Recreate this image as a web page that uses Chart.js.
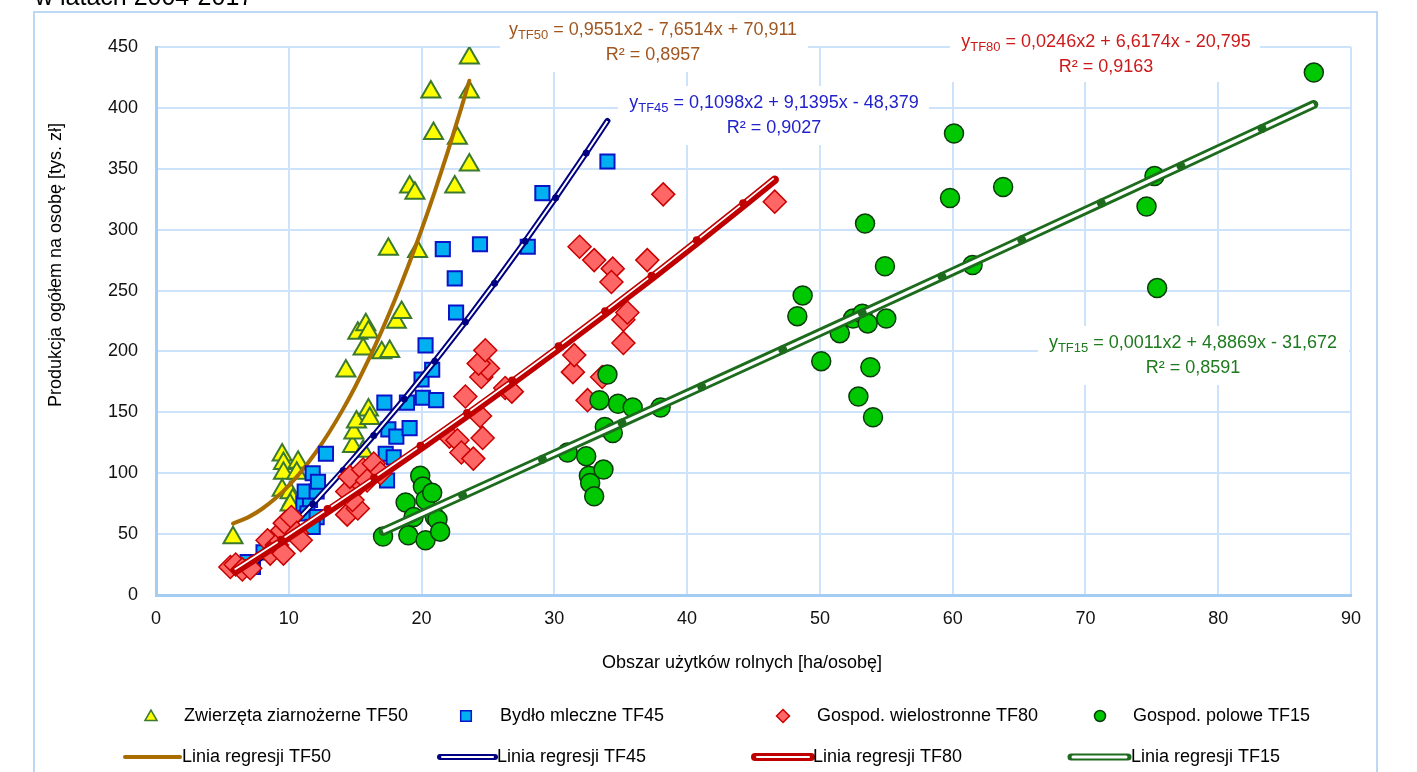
<!DOCTYPE html>
<html>
<head>
<meta charset="utf-8">
<script src="https://cdn.jsdelivr.net/npm/chart.js@4.4.1/dist/chart.umd.min.js"></script>
<style>
  html, body { margin: 0; padding: 0; background: #fff; }
  canvas { display: block; }
</style>
</head>
<body>
<canvas id="chart" width="1417" height="772"></canvas>
<script>
const FONT = "'Liberation Sans', Arial, sans-serif";

// [obszar UR ha/osobę, produkcja tys. zł/osobę]
const tf50Points = [
  [5.8, 47], [9.5, 115], [9.6, 108], [10.7, 109], [9.6, 100], [10.6, 100], [9.5, 86],
  [10.1, 84], [10.3, 78], [10.1, 74], [14.3, 184], [14.8, 122], [14.9, 133], [15.1, 142],
  [15.6, 118], [16.0, 152], [16.1, 145], [15.2, 215], [15.8, 222], [16.0, 216], [15.6, 202],
  [17.0, 199], [17.6, 200], [18.1, 224], [18.5, 232], [17.5, 284], [19.7, 282], [19.1, 335],
  [19.5, 330], [22.5, 335], [20.9, 379], [22.7, 375], [23.6, 353], [20.7, 413], [23.6, 413],
  [23.6, 441]
];
const tf45Points = [
  [6.9, 27], [7.3, 23], [8.1, 35], [11.1, 75], [11.6, 78], [11.4, 67], [12.1, 64], [11.8, 56],
  [11.2, 85], [12.1, 85], [11.8, 100], [12.2, 93], [12.8, 116], [17.4, 94], [17.3, 116],
  [17.9, 113], [17.5, 136], [18.1, 130], [19.1, 137], [17.2, 158], [18.9, 158], [20.1, 162],
  [21.1, 160], [20.0, 177], [20.8, 185], [20.3, 205], [22.6, 232], [22.5, 260], [21.6, 284],
  [24.4, 288], [28.0, 286], [29.1, 330], [34.0, 356]
];
const tf80Points = [
  [5.6, 23], [6.0, 25], [6.5, 21], [7.1, 22], [8.4, 45], [9.1, 41], [8.6, 34], [9.6, 34],
  [9.5, 53], [9.7, 59], [10.2, 64], [10.6, 51], [10.9, 45], [14.4, 66], [15.2, 71], [14.8, 78],
  [14.4, 85], [15.4, 92], [14.6, 97], [15.6, 103], [16.4, 108], [16.9, 100], [15.9, 94],
  [22.1, 130], [22.7, 127], [23.0, 117], [23.9, 112], [24.6, 129], [24.4, 147], [23.3, 163],
  [24.5, 179], [25.0, 186], [24.3, 190], [24.8, 201], [26.3, 170], [26.8, 167], [31.4, 183],
  [31.5, 197], [32.5, 160], [33.6, 179], [35.2, 207], [35.2, 226], [35.5, 232], [31.9, 286],
  [33.0, 275], [34.4, 268], [34.3, 257], [37.0, 275], [38.2, 329], [46.6, 323]
];
const tf15Points = [
  [17.1, 48], [18.8, 76], [19.0, 49], [19.4, 64], [19.9, 98], [20.1, 89], [20.3, 78], [20.3, 45],
  [20.8, 84], [21.0, 64], [21.2, 62], [21.4, 52], [31.0, 117], [32.4, 114], [32.6, 98],
  [32.7, 92], [33.0, 81], [33.7, 103], [33.8, 138], [34.4, 133], [33.4, 160], [34.8, 157],
  [35.9, 154], [38.0, 154], [34.0, 181], [48.3, 229], [48.7, 246], [50.1, 192], [51.5, 215],
  [52.5, 227], [53.2, 231], [53.6, 223], [55.0, 227], [53.8, 187], [52.9, 163], [54.0, 146],
  [53.4, 305], [54.9, 270], [59.8, 326], [60.1, 379], [61.5, 271], [63.8, 335], [74.6, 319],
  [75.2, 344], [75.4, 252], [87.2, 429]
];

// trend lines: fitted values of the equations in the labels
const tf50TrendX = [5.8, 7, 8, 9, 10, 11, 12, 13, 14, 15, 16, 17, 18, 19, 20, 21, 22, 23, 23.6];
const tf50TrendY = [58.66, 64.15, 70.83, 79.41, 89.91, 102.31, 116.62, 132.85, 150.99, 171.04,
  193.00, 216.86, 242.63, 270.32, 299.92, 331.43, 364.85, 400.18, 422.29];
const tf45TrendX = [7.1, 9.5, 11.8, 14.1, 16.4, 18.7, 21.0, 23.3, 25.5, 27.8, 30.1, 32.4, 34.0];
const tf45TrendY = [22.05, 48.36, 74.76, 102.32, 131.04, 160.93, 191.97, 224.18, 256.08, 290.56,
  326.20, 363.01, 389.29];
const tf80TrendX = [6.0, 9.5, 13.0, 16.5, 20.0, 23.5, 26.9, 30.4, 33.9, 37.4, 40.8, 44.3, 46.6];
const tf80TrendY = [19.80, 44.29, 69.39, 95.09, 121.39, 148.30, 175.01, 203.11, 231.81, 261.11,
  290.15, 320.63, 341.00];
const tf15TrendX = [17.1, 23.1, 29.1, 35.1, 41.1, 47.2, 53.2, 59.2, 65.2, 71.2, 77.2, 83.3, 87.2];
const tf15TrendY = [52.22, 81.80, 111.47, 141.21, 171.04, 201.44, 231.42, 261.49, 291.63, 321.85,
  352.15, 383.04, 402.83];

const seriesNames = ["Zwierzęta ziarnożerne TF50", "Bydło mleczne TF45", "Gospod. wielostronne TF80", "Gospod. polowe TF15"];
const trendNames = ["Linia regresji TF50", "Linia regresji TF45", "Linia regresji TF80", "Linia regresji TF15"];
const eqSubs = ["TF50", "TF45", "TF80", "TF15"];
const eqFormulas = [" = 0,9551x2 - 7,6514x + 70,911", " = 0,1098x2 + 9,1395x - 48,379",
  " = 0,0246x2 + 6,6174x - 20,795", " = 0,0011x2 + 4,8869x - 31,672"];
const eqR2 = ["R² = 0,8957", "R² = 0,9027", "R² = 0,9163", "R² = 0,8591"];

const xTitle = "Obszar użytków rolnych [ha/osobę]";
const yTitle = "Produkcja ogółem na osobę [tys. zł]";
const topText = "w latach 2004-2017";

const toXY = (pts) => pts.map((p) => ({ x: p[0], y: p[1] }));
const trend = (xs, ys) => xs.map((x, i) => ({ x: x, y: ys[i] }));
const dots = (xs, r) => xs.map((x, i) => (i === 0 || i === xs.length - 1 ? 0 : r));

const C = {
  tf50: "#a86c00", tf45: "#000080", tf80: "#c00000", tf15: "#1d6b1d",
  grid: "#cde3fb", axis: "#a5cdf4", frame: "#bcd8f5"
};

const datasets = [
  { label: seriesNames[0], data: toXY(tf50Points), pointStyle: "triangle", pointRadius: 11,
    backgroundColor: "#ffff00", borderColor: "#3b7a2e", borderWidth: 2 },
  { label: trendNames[0], data: trend(tf50TrendX, tf50TrendY), showLine: true,
    cubicInterpolationMode: "monotone", borderColor: C.tf50, borderWidth: 4, pointRadius: 0,
    borderCapStyle: "round" },

  { label: seriesNames[1], data: toXY(tf45Points), pointStyle: "rect", pointRadius: 10,
    backgroundColor: "#00b0f0", borderColor: "#0a14c8", borderWidth: 2 },
  { label: trendNames[1], data: trend(tf45TrendX, tf45TrendY), showLine: true,
    borderColor: C.tf45, borderWidth: 6, pointRadius: 0, borderCapStyle: "round" },
  { label: trendNames[1], data: trend(tf45TrendX, tf45TrendY), showLine: true,
    borderColor: "#ffffff", borderWidth: 2, pointRadius: dots(tf45TrendX, 3.5),
    pointBackgroundColor: C.tf45, pointBorderWidth: 0 },

  { label: seriesNames[2], data: toXY(tf80Points), pointStyle: "rectRot", pointRadius: 11.5,
    backgroundColor: "#ff6666", borderColor: "#c80000", borderWidth: 1.5 },
  { label: trendNames[2], data: trend(tf80TrendX, tf80TrendY), showLine: true,
    borderColor: C.tf80, borderWidth: 8.5, pointRadius: 0, borderCapStyle: "round" },
  { label: trendNames[2], data: trend(tf80TrendX, tf80TrendY), showLine: true, shift: [-1, -1.4],
    borderColor: "#ffffff", borderWidth: 1.8, pointRadius: dots(tf80TrendX, 4),
    pointBackgroundColor: C.tf80, pointBorderWidth: 0 },

  { label: seriesNames[3], data: toXY(tf15Points), pointStyle: "circle", pointRadius: 9.5,
    backgroundColor: "#00c800", borderColor: "#0b3b0b", borderWidth: 1.5 },
  { label: trendNames[3], data: trend(tf15TrendX, tf15TrendY), showLine: true,
    borderColor: C.tf15, borderWidth: 9, pointRadius: 0, borderCapStyle: "round" },
  { label: trendNames[3], data: trend(tf15TrendX, tf15TrendY), showLine: true,
    borderColor: "#ffffff", borderWidth: 3.4, pointRadius: dots(tf15TrendX, 4.5),
    pointBackgroundColor: C.tf15, pointBorderWidth: 0 }
];
// later entries are painted on top
datasets.forEach((d, i) => { d.order = datasets.length - i; d.pointHoverRadius = 0; });

// equation label boxes: centre x, first line y, box
const eqLayout = [
  { cx: 653, y: 30, box: [500, 15, 308, 57], color: "#a0561f" },
  { cx: 774, y: 103, box: [618, 86, 311, 59], color: "#2222cc" },
  { cx: 1106, y: 42, box: [950, 25, 310, 57], color: "#cc1a1a" },
  { cx: 1193, y: 343, box: [1038, 326, 311, 59], color: "#1e7a1e" }
];

function drawMarker(ctx, style, x, y, r, fill, stroke, lw) {
  ctx.save();
  ctx.beginPath();
  if (style === "triangle") {
    ctx.moveTo(x, y - r);
    ctx.lineTo(x + r * 0.866, y + r * 0.5);
    ctx.lineTo(x - r * 0.866, y + r * 0.5);
    ctx.closePath();
  } else if (style === "rect") {
    const s = r * Math.SQRT1_2;
    ctx.rect(x - s, y - s, 2 * s, 2 * s);
  } else if (style === "rectRot") {
    ctx.moveTo(x - r, y); ctx.lineTo(x, y - r); ctx.lineTo(x + r, y); ctx.lineTo(x, y + r);
    ctx.closePath();
  } else {
    ctx.arc(x, y, r, 0, Math.PI * 2);
  }
  ctx.fillStyle = fill; ctx.fill();
  ctx.lineWidth = lw; ctx.strokeStyle = stroke; ctx.stroke();
  ctx.restore();
}

function drawDoubleLine(ctx, x1, x2, y, outer, ow, iw) {
  ctx.save();
  ctx.lineCap = "round";
  ctx.beginPath(); ctx.moveTo(x1, y); ctx.lineTo(x2, y);
  ctx.strokeStyle = outer; ctx.lineWidth = ow; ctx.stroke();
  if (iw) {
    ctx.beginPath(); ctx.moveTo(x1 + 2, y); ctx.lineTo(x2 - 2, y);
    ctx.strokeStyle = "#ffffff"; ctx.lineWidth = iw; ctx.stroke();
  }
  ctx.restore();
}

const decorations = {
  id: "decorations",
  beforeDraw(chart) {
    const ctx = chart.ctx;
    ctx.save();
    ctx.fillStyle = "#ffffff";
    ctx.fillRect(0, 0, chart.width, chart.height);
    ctx.fillStyle = "#000000";
    ctx.font = "25px " + FONT;
    ctx.textBaseline = "alphabetic";
    ctx.fillText(topText, 35, 5);
    ctx.strokeStyle = C.frame;
    ctx.lineWidth = 2;
    ctx.strokeRect(34, 12, 1343, 800);
    ctx.restore();
  },
  beforeDatasetsDraw(chart) {
    const ctx = chart.ctx;
    ctx.save();
    ctx.fillStyle = "#ffffff";
    eqLayout.forEach((e) => ctx.fillRect(e.box[0], e.box[1], e.box[2], e.box[3]));
    ctx.restore();
  },
  beforeDatasetDraw(chart, args) {
    const ds = chart.data.datasets[args.index];
    if (ds.shift) {
      chart.ctx.save();
      chart.ctx.translate(ds.shift[0], ds.shift[1]);
    }
  },
  afterDatasetDraw(chart, args) {
    if (chart.data.datasets[args.index].shift) chart.ctx.restore();
  },
  afterDatasetsDraw(chart) {
    const ctx = chart.ctx;
    ctx.save();
    ctx.textBaseline = "middle";
    // regression equations
    eqLayout.forEach((e, i) => {
      ctx.fillStyle = e.color;
      ctx.font = "18px " + FONT;
      const wy = ctx.measureText("y").width;
      const wf = ctx.measureText(eqFormulas[i]).width;
      ctx.font = "13px " + FONT;
      const ws = ctx.measureText(eqSubs[i]).width;
      let x = e.cx - (wy + ws + wf) / 2;
      ctx.textAlign = "left";
      ctx.font = "18px " + FONT;
      ctx.fillText("y", x, e.y);
      ctx.font = "13px " + FONT;
      ctx.fillText(eqSubs[i], x + wy, e.y + 5);
      ctx.font = "18px " + FONT;
      ctx.fillText(eqFormulas[i], x + wy + ws, e.y);
      ctx.textAlign = "center";
      ctx.fillText(eqR2[i], e.cx, e.y + 25);
    });

    // axis titles
    ctx.fillStyle = "#000000";
    ctx.font = "18px " + FONT;
    ctx.textAlign = "center";
    ctx.fillText(xTitle, 742, 663);
    ctx.save();
    ctx.translate(56, 265);
    ctx.rotate(-Math.PI / 2);
    ctx.fillText(yTitle, 0, 0);
    ctx.restore();

    // legend
    ctx.textAlign = "left";
    const row1 = 716, row2 = 757;
    drawMarker(ctx, "triangle", 151, row1 + 1, 7, "#ffff00", "#3b7a2e", 1.5);
    drawMarker(ctx, "rect", 466, row1, 7.5, "#00b0f0", "#0a14c8", 1.5);
    drawMarker(ctx, "rectRot", 783, row1, 6.5, "#ff6666", "#c80000", 1.5);
    drawMarker(ctx, "circle", 1100, row1, 5.5, "#00c800", "#0b3b0b", 1.5);
    ctx.fillStyle = "#000000";
    ctx.fillText(seriesNames[0], 184, row1);
    ctx.fillText(seriesNames[1], 500, row1);
    ctx.fillText(seriesNames[2], 817, row1);
    ctx.fillText(seriesNames[3], 1133, row1);

    drawDoubleLine(ctx, 125, 180, row2, C.tf50, 4, 0);
    drawDoubleLine(ctx, 440, 495, row2, C.tf45, 6, 2);
    drawDoubleLine(ctx, 755, 811, row2, C.tf80, 8, 2);
    drawDoubleLine(ctx, 1071, 1128, row2, C.tf15, 7, 3);
    ctx.fillStyle = "#000000";
    ctx.fillText(trendNames[0], 182, row2);
    ctx.fillText(trendNames[1], 497, row2);
    ctx.fillText(trendNames[2], 813, row2);
    ctx.fillText(trendNames[3], 1131, row2);
    ctx.restore();
  }
};

Chart.defaults.font.family = FONT;
Chart.defaults.font.size = 18;
Chart.defaults.color = "#111111";

new Chart(document.getElementById("chart").getContext("2d"), {
  type: "scatter",
  data: { datasets: datasets },
  options: {
    responsive: false,
    animation: false,
    devicePixelRatio: 1,
    events: [],
    layout: { padding: { left: 0, right: 66, top: 47, bottom: 0 } },
    plugins: { legend: { display: false }, tooltip: { enabled: false } },
    scales: {
      x: {
        type: "linear", min: 0, max: 90,
        ticks: { stepSize: 10, padding: 13, color: "#111111" },
        grid: { color: C.grid, lineWidth: 2, drawTicks: false },
        border: { color: C.axis, width: 3 },
        afterFit: (s) => { s.height = 177; }
      },
      y: {
        type: "linear", min: 0, max: 450,
        ticks: { stepSize: 50, padding: 18, color: "#111111" },
        grid: { color: C.grid, lineWidth: 2, drawTicks: false },
        border: { color: C.axis, width: 3 },
        afterFit: (s) => { s.width = 156; }
      }
    }
  },
  plugins: [decorations]
});
</script>
</body>
</html>
